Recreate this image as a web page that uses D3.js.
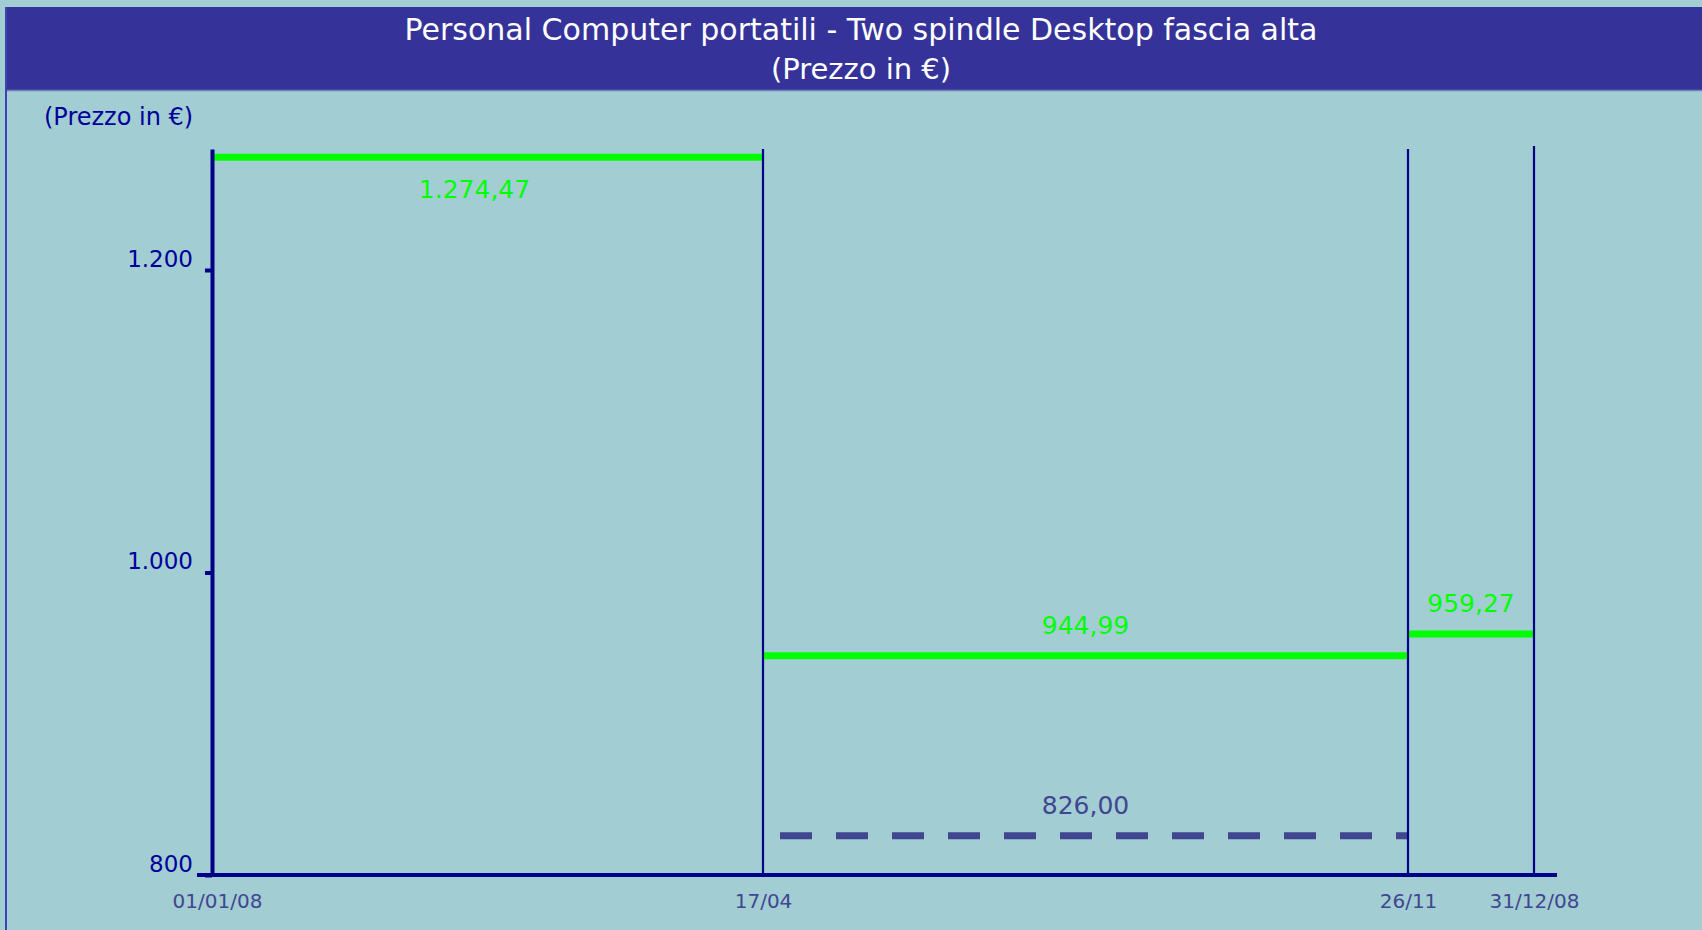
<!DOCTYPE html>
<html>
<head>
<meta charset="utf-8">
<script src="https://cdn.jsdelivr.net/npm/d3@7/dist/d3.min.js"></script>
<style>
  html, body { margin: 0; padding: 0; background: #a2cdd3; }
  svg { display: block; }
  text { font-family: "DejaVu Sans", Verdana, sans-serif; }
</style>
</head>
<body>
<svg id="chart" width="1702" height="930"></svg>
<script>
// Period boundaries and their axis labels
const periodDates = ["2008-01-01", "2008-04-17", "2008-11-26", "2008-12-31"];
const periodLabels = ["01/01/08", "17/04", "26/11", "31/12/08"];

// Average price for each period (start date index -> end date index)
const priceStartIdx = [0, 1, 2];
const priceEndIdx = [1, 2, 3];
const priceValues = [1274.47, 944.99, 959.27];
const priceLabels = ["1.274,47", "944,99", "959,27"];

// Minimum price over the 17/04 – 26/11 period
const minStartIdx = 1;
const minEndIdx = 2;
const minValue = 826.00;
const minLabel = "826,00";

// Price axis
const yTicks = [800, 1000, 1200];
const yTickLabels = ["800", "1.000", "1.200"];

const titleLines = ["Personal Computer portatili - Two spindle Desktop fascia alta", "(Prezzo in €)"];
const yAxisTitle = "(Prezzo in €)";

// ---- layout ----
const W = 1702, H = 930;
const NAVY = "#000088", GREEN = "#00ff00", SLATE = "#414690", BAND = "#35339a";

const parse = d3.timeParse("%Y-%m-%d");
const dates = periodDates.map(parse);

// Piecewise time scale: each period gets its own stretch of the axis
const x = d3.scaleTime().domain(dates).range([212, 763, 1408, 1534]);
const y = d3.scaleLinear().domain([800, 1280]).range([875, 149]);

const svg = d3.select("#chart");

// background and frame
svg.append("rect").attr("width", W).attr("height", H).attr("fill", "#a2cdd3");
svg.append("rect").attr("x", 6).attr("y", 7).attr("width", W - 6).attr("height", 83)
  .attr("fill", BAND);
svg.append("line").attr("x1", 6).attr("x2", W).attr("y1", 90.5).attr("y2", 90.5)
  .attr("stroke", "#6f80bc").attr("stroke-width", 1.5);
svg.append("line").attr("x1", 6).attr("x2", 6).attr("y1", 7).attr("y2", H)
  .attr("stroke", "#3f45b0").attr("stroke-width", 2);

// title
svg.append("text").attr("x", 861).attr("y", 40).attr("text-anchor", "middle")
  .attr("fill", "#ffffff").attr("font-size", 30).text(titleLines[0]);
svg.append("text").attr("x", 861).attr("y", 79).attr("text-anchor", "middle")
  .attr("fill", "#ffffff").attr("font-size", 29).text(titleLines[1]);

// y axis title
svg.append("text").attr("x", 44).attr("y", 125).attr("fill", "#000099")
  .attr("font-size", 24).text(yAxisTitle);

// average price segments
const segs = priceValues.map((v, i) => ({
  v, label: priceLabels[i],
  x0: x(dates[priceStartIdx[i]]), x1: x(dates[priceEndIdx[i]])
}));

svg.append("g").selectAll("line").data(segs).join("line")
  .attr("x1", d => d.x0).attr("x2", d => d.x1)
  .attr("y1", d => y(d.v)).attr("y2", d => y(d.v))
  .attr("stroke", GREEN).attr("stroke-width", 7);

// labels sit above their segment, or below when the segment is near the top
svg.append("g").selectAll("text").data(segs).join("text")
  .attr("x", d => (d.x0 + d.x1) / 2)
  .attr("dx", d => (y(d.v) - y.range()[1] < 40) ? -13 : 0)
  .attr("y", d => (y(d.v) - y.range()[1] < 40) ? y(d.v) + 41 : y(d.v) - 22)
  .attr("text-anchor", "middle").attr("fill", GREEN).attr("font-size", 25)
  .text(d => d.label);

// minimum price (dashed)
const mx0 = x(dates[minStartIdx]), mx1 = x(dates[minEndIdx]);
svg.append("line")
  .attr("x1", mx0).attr("x2", mx1).attr("y1", y(minValue)).attr("y2", y(minValue))
  .attr("stroke", SLATE).attr("stroke-width", 7)
  .attr("stroke-dasharray", "32,24").attr("stroke-dashoffset", 39);
svg.append("text").attr("x", (mx0 + mx1) / 2).attr("y", y(minValue) - 22)
  .attr("text-anchor", "middle").attr("fill", SLATE).attr("font-size", 25)
  .text(minLabel);

// period boundary lines
svg.append("g").selectAll("line").data(dates.slice(1)).join("line")
  .attr("x1", d => x(d)).attr("x2", d => x(d))
  .attr("y1", (d, i) => i === 2 ? y.range()[1] - 3 : y.range()[1]).attr("y2", y(800))
  .attr("stroke", NAVY).attr("stroke-width", 2.2);

// x axis
const xAxis = svg.append("g").attr("transform", `translate(0,${y(800)})`)
  .call(d3.axisBottom(x).tickValues(dates)
    .tickFormat((d, i) => periodLabels[i]).tickSize(0).tickPadding(19));
xAxis.select(".domain").remove();
xAxis.selectAll("text").attr("fill", SLATE).attr("font-size", 20)
  .attr("font-family", "'DejaVu Sans', Verdana, sans-serif")
  .attr("dx", (d, i) => i === 0 ? 5 : 0);
svg.append("line").attr("x1", x(dates[0]) - 15).attr("x2", x(dates[3]) + 23)
  .attr("y1", y(800)).attr("y2", y(800))
  .attr("stroke", NAVY).attr("stroke-width", 4);

// y axis
const yAxis = svg.append("g").attr("transform", `translate(${x(dates[0])},0)`)
  .call(d3.axisLeft(y).tickValues(yTicks)
    .tickFormat((d, i) => yTickLabels[i]).tickSize(7).tickSizeOuter(0).tickPadding(12));
yAxis.select(".domain").attr("stroke", NAVY).attr("stroke-width", 4);
yAxis.selectAll(".tick line").attr("stroke", NAVY).attr("stroke-width", 4);
yAxis.selectAll("text").attr("fill", "#000099").attr("font-size", 23)
  .attr("font-family", "'DejaVu Sans', Verdana, sans-serif")
  .attr("dy", "-4px");
</script>
</body>
</html>
